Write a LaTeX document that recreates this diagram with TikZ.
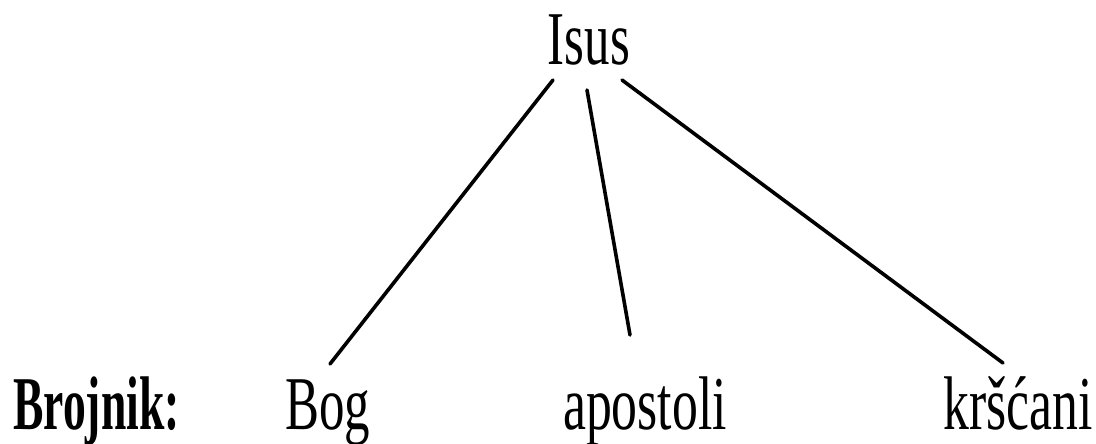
\documentclass[tikz,border=0pt]{standalone}
\usepackage{fontspec}
\setmainfont{Liberation Serif}
\tikzset{
  lbl/.style={inner sep=0pt, anchor=base, font=\fontsize{76}{80}\selectfont},
  edge/.style={line width=3.6pt, line cap=round}
}
\newcommand{\cond}[2][0.67]{\scalebox{#1}[1]{#2}}
\begin{document}
\begin{tikzpicture}[x=1pt,y=1pt]
\useasboundingbox (0,0) rectangle (1096,-444);
\node[lbl] (isus) at (589,-65) {\cond{Isus}};
\node[lbl, anchor=base west] (broj) at (13,-429) {\cond[0.60]{\textbf{Brojnik:}}};
\node[lbl] (bog) at (328,-429) {\cond{Bog}};
\node[lbl] (apo) at (645,-429) {\cond[0.68]{apostoli}};
\node[lbl] (krs) at (1018,-429) {\cond[0.68]{kršćani}};
\coordinate (i1) at (553,-80);
\coordinate (i2) at (587,-90);
\coordinate (i3) at (622,-80);
\coordinate (b1) at (330,-364);
\coordinate (a1) at (630,-335);
\coordinate (k1) at (1003,-363);
\draw[edge] (i1) -- (b1);
\draw[edge] (i2) -- (a1);
\draw[edge] (i3) -- (k1);
\end{tikzpicture}
\end{document}
